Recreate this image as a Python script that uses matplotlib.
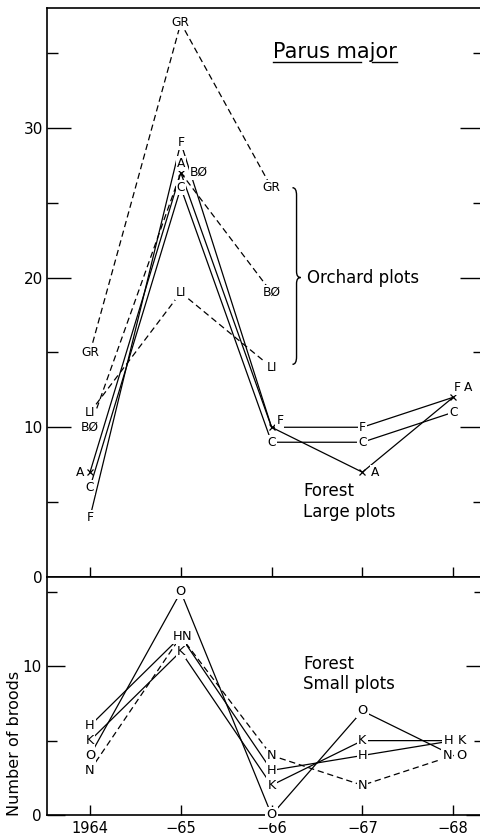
import matplotlib
matplotlib.use("Agg")
import matplotlib.pyplot as plt
from matplotlib.path import Path
from matplotlib.patches import PathPatch

years = [1964, 1965, 1966, 1967, 1968]
year_labels = ["1964", "\u221265", "\u221266", "\u221267", "\u221268"]

# Orchard plots, only 1964-66 (dashed)
orchard_years = [1964, 1965, 1966]
orchard_GR = [15, 37, 26]
orchard_BO = [10, 27, 19]
orchard_LI = [11, 19, 14]

# Forest, large plots (solid)
large_F = [4, 29, 10, 10, 12]
large_A = [7, 27, 10, 7, 12]
large_C = [6, 26, 9, 9, 11]

# Forest, small plots (N dashed)
small_H = [6, 12, 3, 4, 5]
small_K = [5, 11, 2, 5, 5]
small_O = [4, 15, 0, 7, 4]
small_N = [3, 12, 4, 2, 4]

DASH = (0, (5, 3))
LW = 0.9


def tag(ax, x, y, s, dx=0, dy=0, size=8):
    # point label, white box so the lines stop short of it
    ax.annotate(s, (x, y), xytext=(dx, dy), textcoords="offset points",
                ha="center", va="center", fontsize=size, zorder=4,
                bbox=dict(boxstyle="square,pad=0.08", fc="white", ec="none"),
                annotation_clip=False)


def series(ax, xs, ys, name, ls="-", offsets=None, size=8, marker=None):
    ax.plot(xs, ys, color="black", lw=LW, ls=ls, marker=marker, ms=5,
            mew=0.9, zorder=2, clip_on=False)
    offsets = offsets or {}
    for x, y in zip(xs, ys):
        off = offsets.get(x, (0, 0))
        if off is None:
            continue
        tag(ax, x, y, name, off[0], off[1], size)


fig = plt.figure(figsize=(4.8, 8.35), dpi=100)
left = 47 / 480
width = (484 - 47) / 480
ax1 = fig.add_axes([left, (835 - 577) / 835, width, (577 - 8) / 835])
ax2 = fig.add_axes([left, (835 - 815) / 835, width, (815 - 577) / 835])

for ax in (ax1, ax2):
    ax.set_xlim(1963.526, 1968.34)
    for sp in ax.spines.values():
        sp.set_linewidth(1.2)
    ax.set_xticks(years)

ax1.set_ylim(0, 38)
ax2.set_ylim(0, 16)

# top panel
top_size = 8.8
series(ax1, orchard_years, orchard_GR, "GR", ls=DASH, size=top_size)
series(ax1, orchard_years, orchard_BO, "BØ", ls=DASH, size=top_size,
       offsets={1965: (13, 0)})
series(ax1, orchard_years, orchard_LI, "LI", ls=DASH, size=top_size)
series(ax1, years, large_C, "C", size=top_size)
series(ax1, years, large_F, "F", size=top_size,
       offsets={1966: (6, 5), 1968: (3, 7)})
series(ax1, years, large_A, "A", marker="x", size=top_size,
       offsets={1964: (-7.5, 0), 1965: (0, 6.5), 1966: None,
                1967: (9.5, 0), 1968: (11, 7)})

# bottom panel
small_size = 9.3
series(ax2, years, small_N, "N", ls=DASH, size=small_size,
       offsets={1965: (4.5, 0), 1968: (-4.3, 0)})
series(ax2, years, small_H, "H", size=small_size,
       offsets={1965: (-2.5, 0), 1968: (-3.6, 0)})
series(ax2, years, small_K, "K", size=small_size, offsets={1968: (6.5, 0)})
series(ax2, years, small_O, "O", size=small_size, offsets={1968: (5.8, 0)})

# ticks
ax1.set_yticks([0, 10, 20, 30])
ax1.set_yticks([5, 15, 25, 35], minor=True)
ax1.tick_params(axis="y", which="major", direction="in", length=17, width=1,
                left=True, right=True, labelsize=11, pad=3)
ax1.tick_params(axis="y", which="minor", direction="in", length=8, width=1,
                left=True, right=True)
ax1.tick_params(axis="x", direction="in", length=7, width=1, labelbottom=False)

ax2.set_yticks([0, 10])
ax2.set_yticks([5, 15], minor=True)
ax2.tick_params(axis="y", which="major", direction="in", length=13, width=1,
                left=True, right=True, labelsize=11, pad=4)
ax2.tick_params(axis="y", which="minor", direction="in", length=7.5, width=1,
                left=True, right=True)
ax2.tick_params(axis="x", direction="in", length=7, width=1, labelsize=10.5,
                pad=4)
ax2.set_xticklabels(year_labels)

# title, underlined in two pieces (broken at the j)
title = ax1.text(0.517, 0.912, "Parus major", transform=ax1.transAxes,
                 fontsize=15, va="baseline", ha="left")
fig.canvas.draw()
bb = title.get_window_extent().transformed(ax1.transAxes.inverted())
w = bb.x1 - bb.x0
for a, b in [(0.0, 0.709), (0.803, 1.0)]:
    ax1.plot([bb.x0 + a * w, bb.x0 + b * w], [0.905, 0.905],
             transform=ax1.transAxes, color="black", lw=1)

# brace for orchard plots
x0, xm, xt = 1966.23, 1966.275, 1966.32
top, mid, bot = 26.0, 20.0, 14.2
verts = [(x0, top), (xm, top), (xm, top - 0.5),
         (xm, mid + 0.4), (xm, mid), (xt, mid),
         (xm, mid), (xm, mid - 0.4),
         (xm, bot + 0.5), (xm, bot), (x0, bot)]
codes = [Path.MOVETO, Path.CURVE3, Path.CURVE3,
         Path.LINETO, Path.CURVE3, Path.CURVE3,
         Path.CURVE3, Path.CURVE3,
         Path.LINETO, Path.CURVE3, Path.CURVE3]
ax1.add_patch(PathPatch(Path(verts, codes), fc="none", ec="black", lw=1))
ax1.text(0.595, 0.5255, "Orchard plots", transform=ax1.transAxes,
         fontsize=12, va="center", ha="left")

ax1.text(0.586, 0.1327, "Forest\nLarge plots", transform=ax1.transAxes,
         fontsize=12, va="center", ha="left", linespacing=1.15)
ax2.text(0.586, 0.592, "Forest\nSmall plots", transform=ax2.transAxes,
         fontsize=12, va="center", ha="left", linespacing=1.15)

fig.text(0.03, (835 - 743) / 835, "Number of broods", rotation=90,
         ha="center", va="center", fontsize=11.5)

fig.savefig("out.png", dpi=100)
